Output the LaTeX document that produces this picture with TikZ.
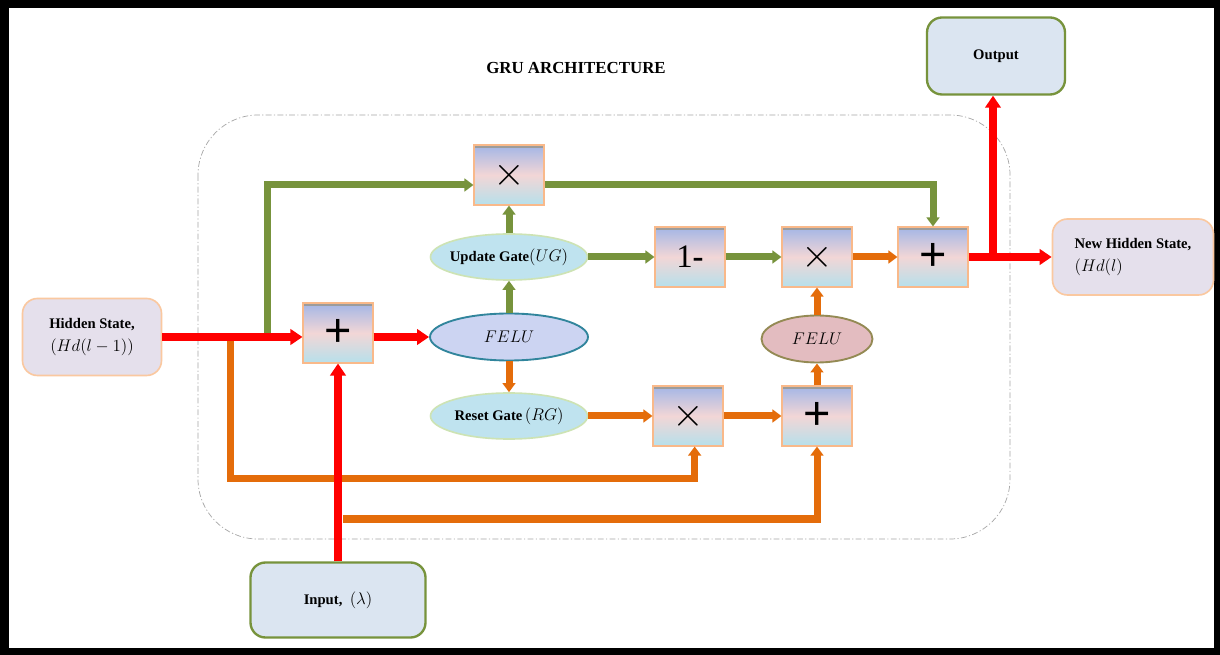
\documentclass[tikz,border=0pt]{standalone}
\usepackage{fontspec}
\usepackage{graphicx}
\setmainfont{Liberation Serif}
\newfontfamily\opglyph{Liberation Sans}
\usepackage{tikz}
\usetikzlibrary{positioning,arrows.meta,shapes.geometric}
\definecolor{gruRed}{HTML}{FF0000}
\definecolor{gruGreen}{HTML}{77933C}
\definecolor{gruOrange}{HTML}{E46C0A}
\definecolor{boxEdge}{HTML}{F9B98A}
\definecolor{boxTop}{HTML}{A3B6E6}
\definecolor{boxMid}{HTML}{F2D6D6}
\definecolor{boxBot}{HTML}{B6E0EB}
\definecolor{boxBar}{HTML}{9C9C9C}
\definecolor{stateFill}{HTML}{E5E0EC}
\definecolor{stateEdge}{HTML}{FAC8A0}
\definecolor{ioFill}{HTML}{DBE5F1}
\definecolor{gateFill}{HTML}{BFE3EF}
\definecolor{gateEdge}{HTML}{CDE3B4}
\definecolor{feluFill}{HTML}{CCD4F2}
\definecolor{feluEdge}{HTML}{31859C}
\definecolor{feluTwoFill}{HTML}{E3BCC0}
\definecolor{feluTwoEdge}{HTML}{948A54}
\definecolor{frameGray}{HTML}{A6A6A6}
\newcommand{\opplus}{{\opglyph\fontsize{40}{42}\selectfont +}}
\newcommand{\optimes}{\scalebox{1.4}{\fontsize{24.88}{26}\selectfont$\times$}}
\newcommand{\mathbig}{\fontsize{14.4}{17}\selectfont}
\tikzset{
  redflow/.style={draw=gruRed, line width=0.26cm, -{Triangle[length=0.36cm, width=0.46cm]}},
  greenflow/.style={draw=gruGreen, line width=0.21cm, -{Triangle[length=0.27cm, width=0.38cm]}},
  orangeflow/.style={draw=gruOrange, line width=0.21cm, -{Triangle[length=0.27cm, width=0.38cm]}},
  opbox/.style={draw=boxEdge, line width=0.9pt, minimum width=2.1cm, minimum height=1.8cm, inner sep=0pt,
    top color=boxTop, bottom color=boxBot, middle color=boxMid,
    path picture={\fill[boxBar] (path picture bounding box.north west) rectangle ([yshift=-0.9mm]path picture bounding box.north east);}},
  statebox/.style={draw=stateEdge, line width=1.4pt, fill=stateFill, rounded corners=0.45cm, align=center},
  iobox/.style={draw=gruGreen, line width=2pt, fill=ioFill, rounded corners=0.45cm, align=center},
  gatenode/.style={ellipse, draw=gateEdge, line width=1.4pt, fill=gateFill, minimum width=4.71cm, minimum height=1.38cm, inner xsep=-2mm, inner ysep=0pt},
  feluone/.style={ellipse, draw=feluEdge, line width=1.6pt, fill=feluFill, minimum width=4.74cm, minimum height=1.41cm},
  felutwo/.style={ellipse, draw=feluTwoEdge, line width=1.6pt, fill=feluTwoFill, minimum width=3.33cm, minimum height=1.41cm},
}

\begin{document}
\begin{tikzpicture}[x=0.03cm, y=-0.03cm, every node/.style={font=\fontsize{12.5}{15}\selectfont}]
  \fill[black] (0,0) rectangle (1220,655);
  \fill[white] (9,8) rectangle (1214,648);
  \draw[frameGray, line width=0.6pt, dash pattern=on 5pt off 2pt on 1pt off 2pt, rounded corners=1.8cm] (198,115) rectangle (1010,539);

  \node[font=\fontsize{14.4}{17}\selectfont\bfseries] (title) at (576,68) {GRU ARCHITECTURE};

  \node[statebox, minimum width=4.17cm, minimum height=2.31cm] (hidden) at (92,337) {\textbf{Hidden State,}\\[5pt]{\mathbig$(Hd(l-1))$}};
  \node[statebox, minimum width=4.83cm, minimum height=2.28cm, align=left] (newhidden) at (1133,257) {\textbf{New Hidden State,}\\[5pt]{\mathbig$(Hd(l)$}};
  \node[iobox, minimum width=4.14cm, minimum height=2.31cm] (output) at (996,56) {\textbf{Output}};
  \node[iobox, minimum width=5.25cm, minimum height=2.25cm] (input) at (338,600) {\textbf{Input,}\enspace{\mathbig$(\lambda)$}};

  \node[opbox] (plusin) at (338,333) {\opplus};
  \node[opbox] (xtop) at (509,175) {\optimes};
  \node[opbox] (onem) at (690,257) {\fontsize{28}{30}\selectfont 1\textbf{-}};
  \node[opbox] (xmid) at (817,257) {\optimes};
  \node[opbox] (plusout) at (933,257) {\opplus};
  \node[opbox] (xbot) at (688,416) {\optimes};
  \node[opbox] (plusbot) at (817,416) {\opplus};

  \node[gatenode] (update) at (509,257) {\textbf{Update Gate}{\mathbig$(UG)$}};
  \node[feluone] (felu) at (509,337) {\mathbig$FELU$};
  \node[gatenode] (reset) at (509,416) {\textbf{Reset Gate}\,{\mathbig$(RG)$}};
  \node[felutwo] (felutwo) at (817,339) {\mathbig$FELU$};

  \coordinate (upsplit) at (267,337);
  \coordinate (rsplit) at (230,337);
  \coordinate (resetlane) at (230,479);
  \coordinate (insplit) at (343,519);
  \coordinate (outsplit) at (993,257);

  \draw[greenflow] (upsplit) |- ([yshift=-0.3cm]xtop.west);
  \draw[greenflow] ([yshift=-0.3cm]xtop.east) -| (plusout.north);
  \draw[greenflow] (felu.north) -- (update.south);
  \draw[greenflow] (update.north) -- (xtop.south);
  \draw[greenflow] (update.east) -- (onem.west);
  \draw[greenflow] (onem.east) -- (xmid.west);

  \draw[orangeflow] (felu.south) -- (reset.north);
  \draw[orangeflow] (reset.east) -- (xbot.west);
  \draw[orangeflow] (xbot.east) -- (plusbot.west);
  \draw[orangeflow] (plusbot.north) -- (felutwo.south);
  \draw[orangeflow] (felutwo.north) -- (xmid.south);
  \draw[orangeflow] (xmid.east) -- (plusout.west);
  \draw[orangeflow] (rsplit) -- (resetlane) -| ([xshift=0.2cm]xbot.south);
  \draw[orangeflow] (insplit) -| (plusbot.south);

  \draw[redflow] (hidden.east) -- (plusin.west |- hidden.east);
  \draw[redflow] (plusin.east |- felu.west) -- (felu.west);
  \draw[redflow] (input.north) -- (plusin.south);
  \draw[redflow] (plusout.east) -- (newhidden.west);
  \draw[redflow] (outsplit) -- (outsplit |- output.south);
\end{tikzpicture}
\end{document}
